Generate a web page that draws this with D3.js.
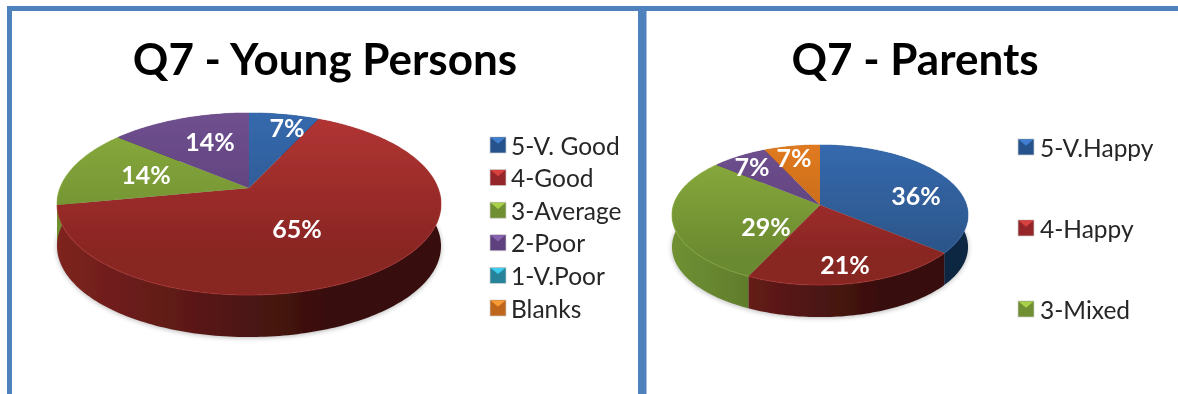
<!DOCTYPE html>
<html><head><meta charset="utf-8">
<script src="https://cdn.jsdelivr.net/npm/d3@7/dist/d3.min.js"></script>
<style>html,body{margin:0;background:#fff}svg{display:block}</style>
</head><body><div id="c"></div>
<script>
// ---- data ----
const youngCategories = ["5-V. Good","4-Good","3-Average","2-Poor","1-V.Poor","Blanks"];
const youngValues = [7,65,14,14,0,0];
const parentCategories = ["5-V.Happy","4-Happy","3-Mixed","2-Unhappy","Blanks"];
const parentValues = [36,21,29,7,7];
const parentLegendCount = 3;
const youngTitle = "Q7 - Young Persons";
const parentTitle = "Q7 - Parents";
// ---- styling keyed by series slot ----
const youngColours = ["blue","red","green","purple","cyan","orange"];
const parentColours = ["blue","red","green","purple","orange"];
const palette = {
  blue:  {top:"#3569ad",bot:"#2b5487",wallA:"#1d3d66",wallB:"#0e2542",swT:"#3f7fcf",swB:"#27538c"},
  red:   {top:"#b33533",bot:"#882523",wallA:"#7d221f",wallB:"#370f0d",swT:"#d8403d",swB:"#94282a"},
  green: {top:"#8aad3d",bot:"#6b8a30",wallA:"#6f9033",wallB:"#45591f",swT:"#a8d04a",swB:"#708f32"},
  purple:{top:"#70508f",bot:"#563a74",wallA:"#4a3263",wallB:"#2a1c38",swT:"#8862ae",swB:"#5d3f7d"},
  cyan:  {top:"#31a5c4",bot:"#23798f",wallA:"#1d6b80",wallB:"#0f3b47",swT:"#3ccbef",swB:"#268399"},
  orange:{top:"#e07a20",bot:"#b8631a",wallA:"#a05515",wallB:"#5c300b",swT:"#f99a30",swB:"#bd661b"}
};
// ---- layout ----
const W=1178,H=394;
const svg=d3.select("#c").append("svg").attr("width",W).attr("height",H).attr("viewBox",[0,0,W,H]);
const defs=svg.append("defs");
const soft=defs.append("filter").attr("id","soft").attr("x","-5%").attr("y","-5%").attr("width","110%").attr("height","110%");
soft.append("feGaussianBlur").attr("stdDeviation",0.55);
const softT=defs.append("filter").attr("id","softT").attr("x","-5%").attr("y","-10%").attr("width","110%").attr("height","120%");
softT.append("feGaussianBlur").attr("stdDeviation",0.35);
const swSoft=defs.append("filter").attr("id","swSoft").attr("x","-20%").attr("y","-20%").attr("width","140%").attr("height","140%");
swSoft.append("feGaussianBlur").attr("stdDeviation",0.6);
const shadow=defs.append("filter").attr("id","shadow").attr("x","-10%").attr("y","-10%").attr("width","120%").attr("height","125%");
shadow.append("feGaussianBlur").attr("stdDeviation",2.5);

// frame
const frameColour="#4f81bd";
const frame=svg.append("g").attr("filter","url(#softT)");
[[7,6,W-7,5],[7,6,5,H-6],[638,6,8.5,H-6]].forEach(r=>frame.append("rect")
  .attr("x",r[0]).attr("y",r[1]).attr("width",r[2]).attr("height",r[3]).attr("fill",frameColour));

let uid=0;
function drawChart(o){
  const g=svg.append("g");
  g.append("text").text(o.title).attr("x",o.titleX).attr("y",o.titleY)
    .attr("text-anchor","middle").attr("font-family","Lato").attr("font-weight",700)
    .attr("font-size",o.titleSize).attr("fill","#000").attr("filter","url(#softT)");

  // projective mapping of the unit disc: angle clockwise from 12 o'clock
  const project=(a,f=1)=>{
    const X=Math.sin(a)*f,Y=-Math.cos(a)*f,w=1-o.k*Y;
    return [o.cx+o.R*X/w,o.cy+o.Ry*Y/w];
  };
  const pie=d3.pie().sort(null).value(d=>d.v)
    .startAngle(o.start).endAngle(o.start+2*Math.PI);
  const arcs=pie(o.values.map((v,i)=>({v,c:palette[o.colours[i]]}))).filter(d=>d.data.v>0);
  const arcPts=(a0,a1)=>{
    const n=Math.max(2,Math.ceil((a1-a0)/0.02));
    return d3.range(n+1).map(i=>project(a0+(a1-a0)*i/n));
  };
  const line=d3.line();
  const pg=g.append("g").attr("filter","url(#soft)");

  // soft ground shadow
  const outline=arcPts(0,2*Math.PI);
  pg.append("path").attr("d",line(outline.map(p=>[p[0],p[1]+o.depth+1]))+"Z")
    .attr("fill","#000").attr("opacity",.28).attr("filter","url(#shadow)");

  // side walls
  arcs.forEach(d=>{
    const id="w"+(uid++);
    const gr=defs.append("linearGradient").attr("id",id).attr("gradientUnits","userSpaceOnUse")
      .attr("x1",o.cx-o.R).attr("x2",o.cx+o.R).attr("y1",0).attr("y2",0);
    gr.append("stop").attr("offset",0).attr("stop-color",d.data.c.wallA);
    gr.append("stop").attr("offset",.72).attr("stop-color",d.data.c.wallB);
    gr.append("stop").attr("offset",1).attr("stop-color",d.data.c.wallB);
    const top=arcPts(d.startAngle,d.endAngle);
    const bottom=top.map(p=>[p[0],p[1]+o.depth]).reverse();
    pg.append("path").attr("d",line(top.concat(bottom))+"Z").attr("fill",`url(#${id})`);
  });

  // top faces
  arcs.forEach(d=>{
    const id="t"+(uid++);
    const gr=defs.append("linearGradient").attr("id",id).attr("gradientUnits","userSpaceOnUse")
      .attr("x1",0).attr("x2",0).attr("y1",o.cy-o.Ry*.85).attr("y2",o.cy+o.Ry*.75);
    gr.append("stop").attr("offset",0).attr("stop-color",d.data.c.top);
    gr.append("stop").attr("offset",1).attr("stop-color",d.data.c.bot);
    const pts=[[o.cx,o.cy]].concat(arcPts(d.startAngle,d.endAngle));
    pg.append("path").attr("d",line(pts)+"Z").attr("fill",`url(#${id})`);
  });
  // lighter bevelled rim along the outer edge
  arcs.forEach(d=>{
    pg.append("path").attr("d",line(arcPts(d.startAngle,d.endAngle)))
      .attr("fill","none").attr("stroke",d.data.c.top).attr("stroke-width",1.2).attr("opacity",.5);
  });

  // data labels
  const lg=g.append("g").attr("filter","url(#softT)");
  arcs.forEach((d,i)=>{
    lg.append("text").text(d.data.v+"%")
      .attr("x",o.cx+o.labelDx[i]).attr("y",o.cy+o.labelDy[i])
      .attr("text-anchor","middle").attr("dominant-baseline","central")
      .attr("font-family","Lato").attr("font-weight",700).attr("font-size",o.labelSize).attr("fill","#fff");
  });

  // legend
  const rows=o.categories.slice(0,o.legendCount);
  const y=d3.scalePoint().domain(rows).range([o.legendTop,o.legendBottom]);
  rows.forEach((name,i)=>{
    const c=palette[o.colours[i]], yy=y(name), s=o.sw, x0=o.legendX;
    const leg=g.append("g").attr("filter","url(#swSoft)");
    leg.append("rect").attr("x",x0).attr("y",yy-s/2).attr("width",s).attr("height",s).attr("fill",c.swB)
      .attr("stroke","#cfcfcf").attr("stroke-width",.7);
    leg.append("path").attr("d",line([[x0+.5,yy-s/2+.5],[x0+s-.5,yy-s/2+.5],[x0+s/2,yy-s*.08]])+"Z").attr("fill",c.swT);
    g.append("text").text(name).attr("x",x0+s+o.legendGap).attr("y",yy)
      .attr("dominant-baseline","central").attr("font-family","Lato").attr("font-size",o.legendSize)
      .attr("fill","#262626").attr("filter","url(#softT)");
  });
}

drawChart({title:youngTitle,titleX:325,titleY:75,titleSize:44,
  categories:youngCategories,values:youngValues,colours:youngColours,
  cx:249,cy:188,R:189,Ry:88.2,k:.176,depth:42,start:0,labelSize:25,
  labelDx:[38,48,-103,-39],labelDy:[-61,40,-14,-47],
  legendCount:6,legendTop:145,legendBottom:308,legendX:490,sw:16,legendGap:5,legendSize:24.5});
drawChart({title:parentTitle,titleX:915,titleY:75,titleSize:44,
  categories:parentCategories,values:parentValues,colours:parentColours,
  cx:820,cy:205,R:146.5,Ry:68.6,k:.143,depth:32,start:0,labelSize:25,
  labelDx:[96,25,-54,-68,-26],labelDy:[-10,59,21,-39,-48],
  legendCount:parentLegendCount,legendTop:147,legendBottom:309,legendX:1018,sw:16,legendGap:6,legendSize:24.5});
</script></body></html>
